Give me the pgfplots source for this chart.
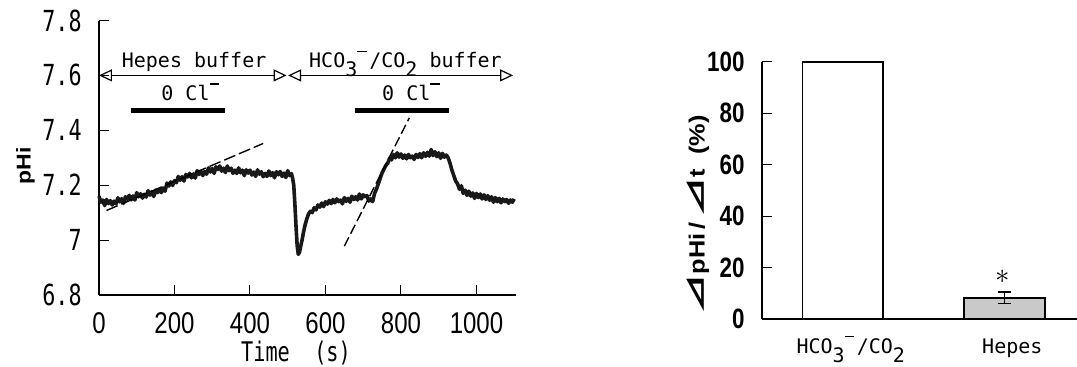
\documentclass[border=0pt]{standalone}
\usepackage{fontspec}
\usepackage{graphicx}
\usepackage{pgfplots}
\pgfplotsset{compat=1.18}
\usetikzlibrary{arrows.meta}
\setmainfont{Liberation Sans}
\newfontfamily\xtickfont[FakeStretch=0.8]{Liberation Sans}
\newfontfamily\ytickfont[FakeStretch=0.75]{DejaVu Sans Mono}
\newfontfamily\rtickfont[FakeStretch=0.8]{Liberation Sans}
\newfontfamily\monofont{DejaVu Sans Mono}
\newfontfamily\timefont[FakeStretch=0.75]{DejaVu Sans Mono}
\newfontfamily\jpfont{Noto Sans CJK JP}
\newcommand\mono{\monofont\fontsize{10}{10}\selectfont}
\newcommand\supminus{\makebox[6pt][l]{\rule[7.8pt]{4.6pt}{0.9pt}}}
\newcommand\hco{HCO\raisebox{-4.5pt}{3}\supminus/CO\raisebox{-4.5pt}{2}}
\begin{document}
\begin{tikzpicture}
\path[use as bounding box] (0,0) rectangle (538.5pt,183pt);
% ---------------- left panel ----------------
\begin{axis}[
  at={(49.5pt,35.5pt)}, anchor=south west,
  scale only axis, width=208.35pt, height=137.25pt,
  xmin=0, xmax=1104, ymin=6.8, ymax=7.8,
  axis lines*=left, axis line style={line width=0.7pt},
  tick align=inside, major tick length=5pt,
  tick style={line width=0.5pt, black},
  xtick={0,200,400,600,800,1000},
  xticklabels={0,200,400,600,800,1000},
  ytick={6.8,7,7.2,7.4,7.6,7.8},
  yticklabels={6.8,7,7.2,7.4,7.6,7.8},
  xticklabel style={font={\xtickfont\fontsize{15}{15}\selectfont}, anchor=base, inner sep=0pt, yshift=-19pt},
  yticklabel style={font={\ytickfont\fontsize{14.5}{14.5}\selectfont}, anchor=east, inner sep=0pt, xshift=-8.5pt},
  clip=false,
]
\addplot[black!90, line width=1.8pt, line join=round] coordinates {
(0,7.160) (5,7.138) (10,7.146) (15,7.126) (20,7.148) (25,7.133) (30,7.144) (35,7.128) (40,7.142) (45,7.132)
(50,7.154) (55,7.139) (60,7.151) (65,7.134) (70,7.158) (75,7.149) (80,7.163) (85,7.147) (90,7.161) (95,7.146)
(100,7.173) (105,7.158) (110,7.169) (115,7.153) (120,7.167) (125,7.157) (130,7.180) (135,7.164) (140,7.176) (145,7.159)
(150,7.182) (155,7.173) (160,7.186) (165,7.173) (170,7.190) (175,7.178) (180,7.208) (185,7.197) (190,7.212) (195,7.199)
(200,7.217) (205,7.209) (210,7.232) (215,7.218) (220,7.231) (225,7.215) (230,7.239) (235,7.230) (240,7.243) (245,7.227)
(250,7.241) (255,7.226) (260,7.253) (265,7.239) (270,7.251) (275,7.235) (280,7.250) (285,7.240) (290,7.263) (295,7.248)
(300,7.261) (305,7.243) (310,7.267) (315,7.257) (320,7.270) (325,7.251) (330,7.262) (335,7.246) (340,7.270) (345,7.253)
(350,7.262) (355,7.243) (360,7.255) (365,7.243) (370,7.263) (375,7.245) (380,7.255) (385,7.235) (390,7.256) (395,7.244)
(400,7.255) (405,7.237) (410,7.248) (415,7.232) (420,7.256) (425,7.240) (430,7.249) (435,7.231) (440,7.243) (445,7.232)
(450,7.252) (455,7.235) (460,7.246) (465,7.227) (470,7.249) (475,7.238) (480,7.250) (485,7.232) (490,7.244) (495,7.228)
(500,7.253) (505,7.235) (510,7.242) (513,7.225) (516,7.200) (519,7.130) (522,7.050) (525,6.980) (528,6.948) (531,6.955)
(534,6.975) (538,7.000) (542,7.030) (546,7.055) (550,7.075) (555,7.095) (560,7.105) (565,7.100) (570,7.118) (575,7.110)
(580,7.128) (585,7.120) (590,7.135) (595,7.122) (600,7.140) (605,7.131) (610,7.145) (615,7.133) (620,7.148) (625,7.136)
(630,7.150) (635,7.140) (640,7.146) (645,7.132) (650,7.155) (655,7.141) (660,7.152) (665,7.138) (670,7.160) (675,7.148)
(680,7.158) (685,7.146) (690,7.168) (695,7.150) (700,7.165) (705,7.157) (710,7.162) (715,7.142) (720,7.150) (725,7.140)
(730,7.170) (735,7.185) (740,7.205) (745,7.225) (750,7.245) (755,7.258) (760,7.272) (765,7.280) (770,7.298) (775,7.292)
(780,7.312) (785,7.300) (790,7.318) (795,7.302) (800,7.314) (805,7.298) (810,7.310) (815,7.296) (820,7.312) (825,7.300)
(830,7.306) (835,7.294) (840,7.312) (845,7.301) (850,7.315) (855,7.300) (860,7.318) (865,7.305) (870,7.320) (875,7.306)
(880,7.330) (885,7.308) (890,7.322) (895,7.304) (900,7.318) (905,7.298) (910,7.316) (915,7.302) (920,7.310) (925,7.300)
(930,7.280) (935,7.255) (940,7.235) (945,7.215) (950,7.205) (955,7.185) (960,7.198) (965,7.170) (970,7.182) (975,7.163)
(980,7.178) (985,7.160) (990,7.172) (995,7.152) (1000,7.170) (1005,7.155) (1010,7.168) (1015,7.150) (1020,7.165) (1025,7.148)
(1030,7.162) (1035,7.145) (1040,7.158) (1045,7.138) (1050,7.155) (1055,7.140) (1060,7.152) (1065,7.136) (1070,7.150) (1075,7.140)
(1080,7.148) (1085,7.134) (1090,7.146) (1095,7.138) (1100,7.150)
};
\addplot[black, line width=0.7pt, dash pattern=on 6pt off 2pt] coordinates {(20,7.108) (435,7.352)};
\addplot[black, line width=0.7pt, dash pattern=on 5pt off 2pt] coordinates {(650,6.978) (822,7.445)};
% buffer arrows
\draw[line width=0.6pt, {Triangle[open,length=6.5pt,width=6pt]}-{Triangle[open,length=6.5pt,width=6pt]}] (axis cs:0,7.6) -- (axis cs:497,7.6);
\draw[line width=0.6pt, {Triangle[open,length=6.5pt,width=6pt]}-{Triangle[open,length=6.5pt,width=6pt]}] (axis cs:501,7.6) -- (axis cs:1097,7.6);
\node[anchor=base, inner sep=0pt, font=\mono] at (axis cs:252,7.627) {Hepes buffer};
\node[anchor=base, inner sep=0pt, font=\mono] at (axis cs:812,7.627) {\hco\ buffer};
% 0 Cl- bars
\draw[line width=2.5pt] (axis cs:84,7.473) -- (axis cs:334,7.473);
\draw[line width=2.5pt] (axis cs:678,7.473) -- (axis cs:927,7.473);
\node[anchor=base, inner sep=0pt, font=\mono] at (axis cs:245,7.508) {0 Cl\supminus};
\node[anchor=base, inner sep=0pt, font=\mono] at (axis cs:830,7.508) {0 Cl\supminus};
\end{axis}
\node[rotate=90, inner sep=0pt] at (12.75pt,100pt) {\scalebox{1.15}[1]{\bfseries\fontsize{10}{10}\selectfont pHi}};
\node[anchor=base, inner sep=0pt, font={\timefont\fontsize{13.5}{13.5}\selectfont}] at (148pt,2.5pt) {Time\ \ (s)};
% ---------------- right panel ----------------
\begin{axis}[
  at={(381pt,23.5pt)}, anchor=south west,
  scale only axis, width=157.5pt, height=128.65pt,
  xmin=-0.5, xmax=1.45, ymin=0, ymax=100,
  axis lines*=left, axis line style={line width=0.8pt},
  tick align=inside, major tick length=5pt,
  tick style={line width=0.5pt, black},
  xtick={0,1}, xticklabels={\hco,Hepes},
  xtick style={draw=none},
  ytick={0,20,40,60,80,100},
  yticklabels={0,20,40,60,80,100},
  xticklabel style={font=\mono, anchor=base, inner sep=0pt, yshift=-17pt, xshift=4pt},
  yticklabel style={font={\rtickfont\bfseries\fontsize{14}{14}\selectfont}, anchor=east, inner sep=0pt, xshift=-8.5pt},
  clip=false,
]
\addplot[ybar, bar width=0.5, bar shift=0pt, fill=white, draw=black, line width=0.8pt] coordinates {(0,100)};
\addplot[ybar, bar width=0.5, bar shift=0pt, fill=gray!42, draw=black, line width=0.8pt,
  error bars/.cd, y dir=both, y explicit,
  error bar style={line width=0.6pt, black},
  error mark options={rotate=90, mark size=3.3pt, line width=0.6pt, black}]
  coordinates {(1,8.2) +- (0,2.3)};
\node[font=\fontsize{15}{15}\selectfont] at (axis cs:0.99,16.3) {$\ast$};
\end{axis}
\node[rotate=90, inner sep=0pt] at (349pt,75.5pt)
  {\scalebox{1.15}[1]{\bfseries\fontsize{11}{11}\selectfont\scalebox{1.6}[1]{\jpfont ⊿}pHi\,/\,\scalebox{1.6}[1]{\jpfont ⊿}t\ \ (\%)}};
\end{tikzpicture}
\end{document}
